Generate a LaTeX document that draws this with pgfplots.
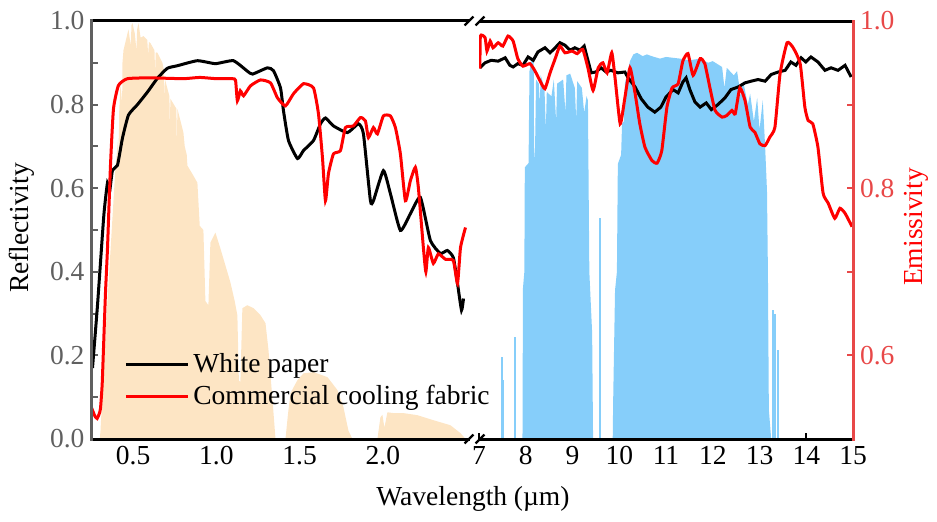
\documentclass[border=0pt]{standalone}
\usepackage{fontspec}
\setmainfont{Liberation Serif}
\usepackage{pgfplots}
\pgfplotsset{compat=1.18}

\definecolor{solar}{RGB}{253,229,196}
\definecolor{window}{RGB}{134,206,250}
\definecolor{axgray}{RGB}{96,96,96}
\definecolor{emisred}{RGB}{232,72,72}

\newcommand\chartfont{\fontsize{13.75}{16}\selectfont}

\pgfplotsset{
  brokenbase/.style={
    scale only axis, height=209pt,
    axis line style={draw=none},
    tick align=inside,
    major tick length=3pt, minor tick length=3pt,
    x tick style={black, line width=1pt},
    tick label style={font=\chartfont},
    /pgf/number format/assume math mode=true,
    xtick pos=left,
    clip mode=individual,
  },
}

\begin{document}
\begin{tikzpicture}
\path[use as bounding box] (0,0) rectangle (468.5pt,260.5pt);

% ---------- visible / near-infrared part: reflectivity ----------
\begin{axis}[brokenbase,
  at={(45.75pt,41pt)}, anchor=south west, width=189pt,
  xmin=0.25, xmax=2.52, ymin=0, ymax=1,
  xtick={0.5,1.0,1.5,2.0}, xticklabels={0.5,1.0,1.5,2.0},
  ytick={0,0.2,0.4,0.6,0.8,1.0},
  yticklabels={0.0,0.2,0.4,0.6,0.8,1.0},
  minor ytick={0.1,0.3,0.5,0.7,0.9},
  ytick pos=left,
  y tick style={axgray, line width=1pt},
  yticklabel style={text=axgray},
  legend style={at={(0.07,0.225)}, anchor=north west, draw=none, fill=none,
    font=\chartfont, row sep=1pt},
  legend cell align=left,
  legend image code/.code={\draw[#1] (0pt,0pt) -- (31pt,0pt);},
]
% AM1.5 solar spectrum (normalised)
\addplot[fill=solar, draw=none, forget plot] coordinates {
(0.280,0) (0.300,0) (0.304,0.02) (0.334,0.25) (0.364,0.45) (0.394,0.65)
(0.410,0.72) (0.412,0.60) (0.416,0.78) (0.424,0.85) (0.434,0.80)
(0.436,0.90) (0.442,0.93) (0.472,0.98) (0.486,0.94) (0.490,0.99)
(0.496,0.995) (0.510,0.97) (0.520,0.93) (0.524,0.98) (0.532,0.995)
(0.545,0.96) (0.562,0.964) (0.585,0.955) (0.590,0.92) (0.595,0.95)
(0.604,0.947) (0.628,0.93) (0.632,0.88) (0.636,0.925) (0.646,0.924)
(0.676,0.90) (0.686,0.88) (0.688,0.80) (0.692,0.86) (0.706,0.838)
(0.718,0.82) (0.720,0.74) (0.724,0.814) (0.760,0.79) (0.762,0.69)
(0.766,0.79) (0.802,0.733) (0.810,0.70) (0.822,0.68) (0.826,0.654)
(0.862,0.63) (0.886,0.613) (0.900,0.51) (0.922,0.50) (0.934,0.33)
(0.952,0.32) (0.964,0.47) (0.994,0.494) (1.024,0.456) (1.084,0.375)
(1.110,0.33) (1.126,0.296) (1.135,0.14) (1.144,0.136) (1.156,0.313)
(1.186,0.32) (1.223,0.313) (1.265,0.296) (1.295,0.277) (1.313,0.212)
(1.337,0.093) (1.355,0) (1.415,0) (1.430,0.06) (1.445,0.11)
(1.487,0.141) (1.523,0.157) (1.583,0.16) (1.667,0.148) (1.727,0.117)
(1.763,0.076) (1.793,0.02) (1.817,0) (1.967,0) (1.985,0.052)
(1.997,0.058) (2.009,0.027) (2.027,0.064) (2.063,0.062) (2.123,0.062)
(2.207,0.057) (2.303,0.045) (2.405,0.033) (2.466,0.014) (2.496,0)
} \closedcycle;

% white paper
\addplot[black, line width=1.5pt, smooth, tension=0.3] coordinates {
(0.256,0.17) (0.286,0.32) (0.324,0.535) (0.346,0.613) (0.358,0.59)
(0.376,0.643) (0.406,0.655) (0.436,0.72) (0.472,0.775) (0.526,0.80)
(0.586,0.83) (0.646,0.863) (0.706,0.887) (0.766,0.893) (0.886,0.905)
(0.994,0.898) (1.102,0.905) (1.186,0.880) (1.217,0.873) (1.307,0.888)
(1.343,0.881) (1.385,0.84) (1.403,0.785) (1.433,0.714) (1.487,0.671)
(1.523,0.69) (1.583,0.714) (1.625,0.754) (1.655,0.768) (1.703,0.749)
(1.787,0.733) (1.853,0.754) (1.883,0.73) (1.925,0.57) (1.943,0.57)
(2.003,0.642) (2.045,0.587) (2.105,0.499) (2.165,0.539) (2.225,0.578)
(2.285,0.475) (2.345,0.444) (2.387,0.451) (2.423,0.434) (2.448,0.372)
(2.472,0.308) (2.484,0.336)
};
\addlegendentry{White paper}

% commercial cooling fabric
\addplot[red, line width=1.5pt, smooth, tension=0.3] coordinates {
(0.250,0.075) (0.270,0.055) (0.284,0.049) (0.296,0.06) (0.304,0.073)
(0.314,0.13) (0.322,0.217) (0.334,0.35) (0.346,0.456) (0.364,0.655)
(0.382,0.79) (0.412,0.846) (0.466,0.862) (0.600,0.864) (0.800,0.862)
(0.900,0.865) (1.000,0.862) (1.096,0.862) (1.115,0.858) (1.126,0.809)
(1.144,0.833) (1.163,0.821) (1.205,0.845) (1.265,0.859) (1.325,0.852)
(1.367,0.816) (1.415,0.797) (1.463,0.826) (1.523,0.85) (1.583,0.84)
(1.613,0.778) (1.637,0.673) (1.655,0.57) (1.673,0.635) (1.703,0.682)
(1.745,0.69) (1.775,0.745) (1.823,0.749) (1.865,0.769) (1.895,0.761)
(1.913,0.721) (1.943,0.745) (1.967,0.73) (2.003,0.773) (2.045,0.773)
(2.075,0.745) (2.105,0.682) (2.135,0.57) (2.165,0.618) (2.195,0.65)
(2.213,0.601) (2.243,0.458) (2.258,0.40) (2.273,0.458) (2.303,0.42)
(2.333,0.443) (2.375,0.43) (2.423,0.427) (2.448,0.372) (2.466,0.458)
(2.496,0.506)
};
\addlegendentry{Commercial cooling fabric}

\draw[black, line width=1.5pt] (rel axis cs:0,0) -- (rel axis cs:1,0);
\draw[black, line width=1.5pt] (rel axis cs:0,1) -- (rel axis cs:1,1);
\draw[axgray, line width=1.5pt, line cap=rect] (rel axis cs:0,0) -- (rel axis cs:0,1);
\end{axis}

% ---------- mid-infrared part: emissivity ----------
\begin{axis}[brokenbase,
  at={(239.5pt,41pt)}, anchor=south west, width=187pt,
  xmin=7, xmax=15, ymin=0.5, ymax=1,
  xtick={7,8,...,15},
  ytick={0.6,0.8,1.0}, yticklabels={0.6,0.8,1.0},
  minor ytick={0.7,0.9},
  ytick pos=right, yticklabel pos=right,
  y tick style={emisred, line width=1pt},
  yticklabel style={text=emisred},
]
% atmospheric transmittance window
\addplot[fill=window, draw=none] coordinates {
(7.93,0.5) (7.94,0.68) (7.97,0.70) (7.98,0.825) (8.06,0.83) (8.08,0.94)
(8.12,0.952) (8.17,0.952) (8.18,0.83) (8.20,0.85) (8.22,0.93) (8.28,0.925)
(8.30,0.90) (8.32,0.935) (8.40,0.92) (8.43,0.87) (8.45,0.915) (8.55,0.91)
(8.60,0.93) (8.65,0.88) (8.67,0.925) (8.80,0.93) (8.85,0.89) (8.87,0.935)
(8.95,0.937) (9.05,0.92) (9.08,0.88) (9.10,0.928) (9.20,0.92) (9.25,0.89)
(9.30,0.91) (9.33,0.905) (9.36,0.70) (9.42,0.627) (9.44,0.5)
} \closedcycle;
\addplot[fill=window, draw=none] coordinates {
(9.86,0.5) (9.87,0.546) (9.91,0.678) (9.95,0.70) (9.97,0.829) (10.04,0.84)
(10.06,0.877) (10.10,0.88) (10.12,0.925) (10.23,0.952) (10.30,0.96)
(10.38,0.962) (10.50,0.958) (10.59,0.96) (10.75,0.957) (10.87,0.955)
(11.00,0.957) (11.30,0.955) (11.50,0.953) (11.73,0.955) (11.90,0.95)
(12.00,0.952) (12.20,0.945) (12.25,0.92) (12.30,0.944) (12.45,0.935)
(12.52,0.94) (12.60,0.91) (12.65,0.928) (12.75,0.90) (12.80,0.913)
(12.88,0.88) (12.95,0.908) (13.00,0.87) (13.07,0.905) (13.12,0.85)
(13.16,0.797) (13.18,0.70) (13.20,0.535) (13.25,0.5)
} \closedcycle;
\addplot[ycomb, draw=window, line width=1pt] coordinates {
(7.49,0.598) (7.52,0.57) (7.78,0.622) (9.59,0.764)
(13.29,0.654) (13.34,0.65) (13.40,0.606)
};

% white paper
\addplot[black, line width=1.5pt] coordinates {
(7.02,0.944) (7.13,0.950) (7.26,0.953) (7.41,0.952) (7.56,0.956)
(7.66,0.947) (7.73,0.945) (7.83,0.949) (7.94,0.947) (8.05,0.957)
(8.16,0.953) (8.26,0.963) (8.41,0.968) (8.52,0.962) (8.63,0.968)
(8.73,0.974) (8.84,0.971) (8.95,0.965) (9.05,0.968) (9.16,0.965)
(9.25,0.970) (9.33,0.953) (9.40,0.938) (9.50,0.939) (9.61,0.944)
(9.72,0.939) (9.82,0.941) (9.97,0.938) (10.12,0.939) (10.19,0.932)
(10.34,0.921) (10.47,0.907) (10.61,0.897) (10.76,0.891) (10.89,0.897)
(11.00,0.909) (11.15,0.918) (11.26,0.914) (11.36,0.927) (11.43,0.932)
(11.51,0.918) (11.62,0.903) (11.73,0.897) (11.86,0.902) (11.97,0.894)
(12.11,0.900) (12.26,0.908) (12.39,0.918) (12.54,0.921) (12.69,0.926)
(12.82,0.928) (12.97,0.930) (13.12,0.928) (13.25,0.936) (13.40,0.939)
(13.55,0.941) (13.67,0.951) (13.78,0.947) (13.89,0.956) (13.99,0.951)
(14.10,0.957) (14.25,0.951) (14.40,0.941) (14.53,0.944) (14.68,0.941)
(14.83,0.947) (14.96,0.933)
};
% commercial cooling fabric
\addplot[red, line width=1.5pt, smooth, tension=0.3] coordinates {
(7.02,0.943) (7.03,0.982) (7.13,0.980) (7.17,0.964) (7.24,0.976)
(7.30,0.968) (7.41,0.974) (7.51,0.970) (7.62,0.982) (7.73,0.976)
(7.83,0.955) (7.94,0.946) (8.09,0.949) (8.20,0.940) (8.30,0.929)
(8.41,0.919) (8.52,0.938) (8.63,0.955) (8.73,0.970) (8.84,0.962)
(8.99,0.964) (9.10,0.961) (9.22,0.966) (9.33,0.944) (9.44,0.917)
(9.55,0.944) (9.65,0.950) (9.74,0.938) (9.84,0.962) (9.91,0.932)
(10.02,0.877) (10.12,0.908) (10.23,0.944) (10.34,0.913) (10.44,0.877)
(10.55,0.849) (10.70,0.833) (10.81,0.830) (10.91,0.845) (11.02,0.897)
(11.13,0.920) (11.26,0.925) (11.36,0.952) (11.47,0.961) (11.58,0.935)
(11.73,0.955) (11.83,0.949) (11.94,0.920) (12.05,0.893) (12.20,0.885)
(12.30,0.887) (12.41,0.893) (12.48,0.889) (12.58,0.920) (12.69,0.905)
(12.80,0.873) (12.90,0.867) (13.01,0.853) (13.12,0.851) (13.22,0.861)
(13.33,0.873) (13.44,0.937) (13.59,0.974) (13.72,0.968) (13.87,0.949)
(13.97,0.897) (14.04,0.881) (14.14,0.877) (14.25,0.849) (14.36,0.794)
(14.47,0.782) (14.61,0.764) (14.72,0.776) (14.83,0.770) (14.98,0.754)
};

\draw[black, line width=1.5pt] (rel axis cs:0,0) -- (rel axis cs:1,0);
\draw[black, line width=1.5pt] (rel axis cs:0,1) -- (rel axis cs:1,1);
\draw[emisred, line width=1.5pt, line cap=rect] (rel axis cs:1,0) -- (rel axis cs:1,1);
\end{axis}

% axis-break marks
\foreach \bx in {234.5pt, 240pt} {
  \draw[black, line width=1.2pt] (\bx-2.2pt,41pt-2.2pt) -- (\bx+2.2pt,41pt+2.2pt);
  \draw[black, line width=1.2pt] (\bx-2.2pt,250pt-2.2pt) -- (\bx+2.2pt,250pt+2.2pt);
}

% axis titles
\node[rotate=90, anchor=base, font=\chartfont] at (14pt,146.5pt) {Reflectivity};
\node[rotate=90, anchor=base, font=\chartfont, text=red] at (461pt,147pt) {Emissivity};
\node[anchor=base, font=\chartfont] at (236.5pt,8pt) {Wavelength (µm)};
\end{tikzpicture}
\end{document}
